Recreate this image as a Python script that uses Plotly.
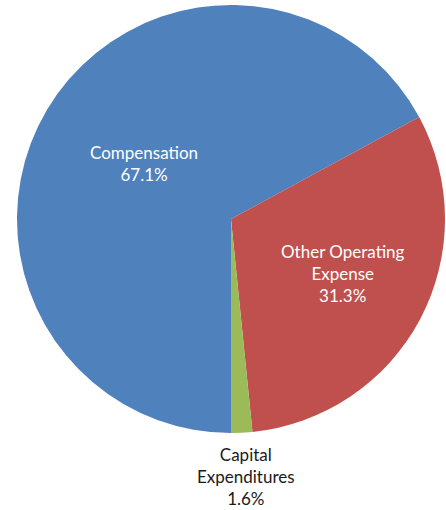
import plotly.graph_objects as go

# Spending breakdown
categories = ["Compensation", "Other Operating<br>Expense", "Capital<br>Expenditures"]
shares = [67.1, 31.3, 1.6]
colors = ["#4F81BD", "#C0504D", "#9BBB59"]

W, H = 446, 510
cx, cy, r = 231, 219, 214  # pie centre and radius in pixels

total = sum(shares)
pct = [f"{v / total * 100:.1f}%" for v in shares]

fig = go.Figure(
    go.Pie(
        labels=[c.replace("<br>", " ") for c in categories],
        values=shares,
        marker=dict(colors=colors, line=dict(width=0)),
        sort=False,
        direction="clockwise",
        rotation=180,
        textinfo="none",
        hoverinfo="label+percent",
        showlegend=False,
        domain=dict(
            x=[(cx - r) / W, (cx + r) / W],
            y=[1 - (cy + r) / H, 1 - (cy - r) / H],
        ),
    )
)

# label block centres (pixels) and text colours
label_pos = [(144, 163.5), (343, 273.5), (246, 476)]
label_colors = ["white", "white", "#1a1a1a"]

for cat, p, (lx, ly), col in zip(categories, pct, label_pos, label_colors):
    fig.add_annotation(
        text=f"{cat}<br>{p}",
        x=lx / W,
        y=1 - ly / H,
        xref="paper",
        yref="paper",
        xanchor="center",
        yanchor="middle",
        showarrow=False,
        align="center",
        font=dict(family="Lato, Open Sans, sans-serif", size=17, color=col),
    )

fig.update_layout(
    width=W,
    height=H,
    margin=dict(l=0, r=0, t=0, b=0),
    paper_bgcolor="white",
    plot_bgcolor="white",
)

fig.write_html("out.html")
